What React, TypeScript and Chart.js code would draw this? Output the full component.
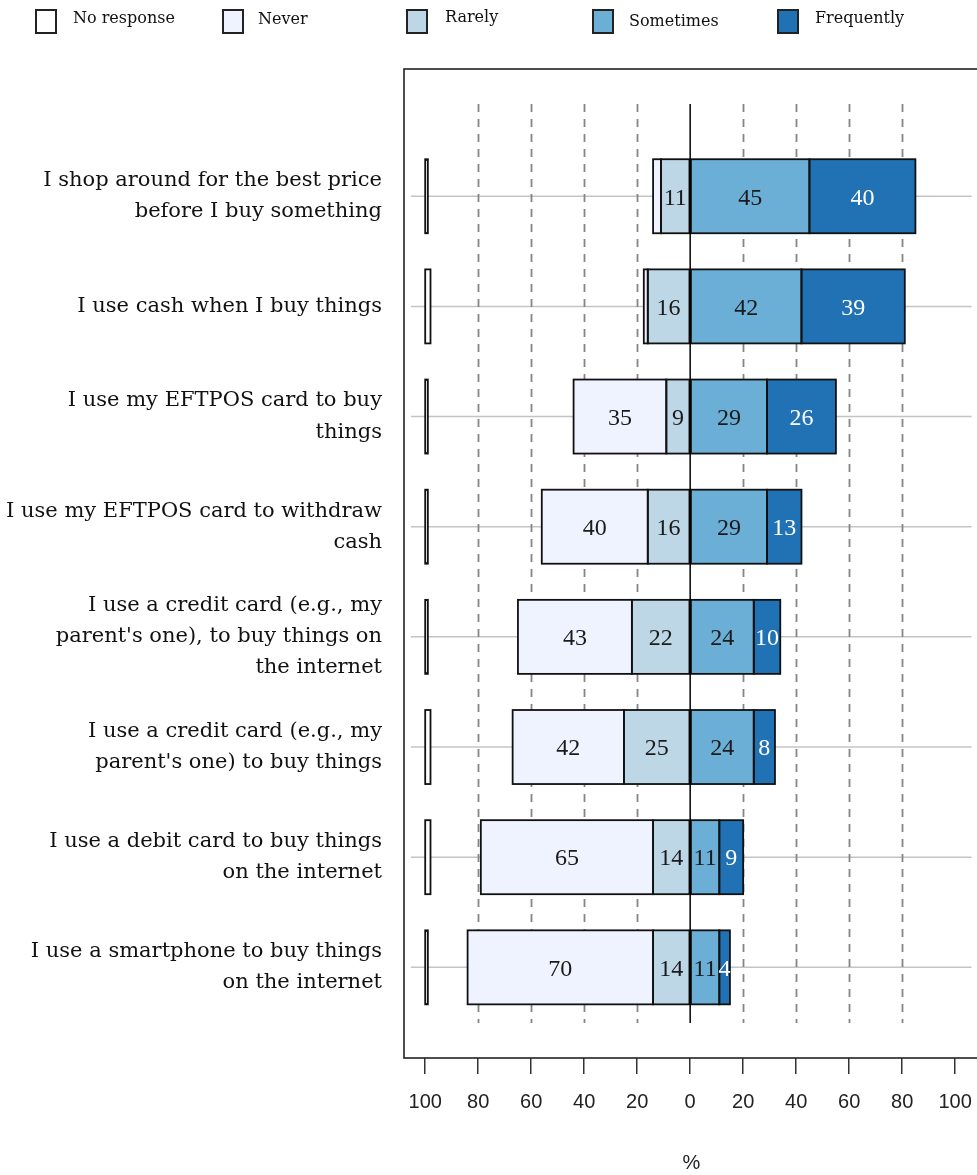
import React, { useEffect, useRef } from "react";
import { Chart, registerables } from "chart.js";

Chart.register(...registerables);

// ---- data ----
const itemLabels: string[][] = [
  ["I shop around for the best price", "before I buy something"],
  ["I use cash when I buy things"],
  ["I use my EFTPOS card to buy", "things"],
  ["I use my EFTPOS card to withdraw", "cash"],
  ["I use a credit card (e.g., my", "parent's one), to buy things on", "the internet"],
  ["I use a credit card (e.g., my", "parent's one) to buy things"],
  ["I use a debit card to buy things", "on the internet"],
  ["I use a smartphone to buy things", "on the internet"],
];
const noResponse = [1, 2, 1, 1, 1, 2, 2, 1];
const never = [3, 1.5, 35, 40, 43, 42, 65, 70];
const rarely = [11, 16, 9, 16, 22, 25, 14, 14];
const sometimes = [45, 42, 29, 29, 24, 24, 11, 11];
const frequently = [40, 39, 26, 13, 10, 8, 9, 4];

const legendLabels = ["No response", "Never", "Rarely", "Sometimes", "Frequently"];
const seriesColors = ["#FFFFFF", "#EFF3FF", "#BDD7E7", "#6BAED6", "#2171B5"];
const xTickValues = [-100, -80, -60, -40, -20, 0, 20, 40, 60, 80, 100];
const dashedValues = [-80, -60, -40, -20, 20, 40, 60, 80];

// ---- layout constants (styles, not data) ----
const W = 980;
const H = 1175;
const legendX = [36, 223, 407, 593, 778];
const legendTextX = [73, 258, 445, 629, 815];
const legendBase = [23, 24, 22, 26, 23];

export default function App() {
  const ref = useRef<HTMLCanvasElement | null>(null);

  useEffect(() => {
    const canvas = ref.current;
    if (!canvas) return;
    const rows = itemLabels.map((_, i) => i);

    const mk = (label: string, color: string, f: (i: number) => [number, number]) => ({
      label,
      backgroundColor: color,
      borderWidth: 0,
      grouped: false,
      categoryPercentage: 0.672,
      barPercentage: 1,
      data: rows.map((i) => ({ y: i, x: f(i) })),
    });

    const datasets = [
      mk(legendLabels[0], seriesColors[0], (i) => [-100, -100 + noResponse[i]]),
      mk(legendLabels[1], seriesColors[1], (i) => [-(never[i] + rarely[i]), -rarely[i]]),
      mk(legendLabels[2], seriesColors[2], (i) => [-rarely[i], 0]),
      mk(legendLabels[3], seriesColors[3], (i) => [0, sometimes[i]]),
      mk(legendLabels[4], seriesColors[4], (i) => [sometimes[i], sometimes[i] + frequently[i]]),
    ];
    const labelValues = [null, never, rarely, sometimes, frequently];

    const decor = {
      id: "decor",
      beforeDatasetsDraw(chart: any) {
        const { ctx, scales } = chart;
        const xs = scales.x;
        const ys = scales.y;
        ctx.save();
        // horizontal gray reference lines
        ctx.strokeStyle = "#C4C4C4";
        ctx.lineWidth = 1.5;
        rows.forEach((i) => {
          const y = ys.getPixelForValue(i);
          ctx.beginPath();
          ctx.moveTo(xs.getPixelForValue(-105.4), y);
          ctx.lineTo(xs.getPixelForValue(106.2), y);
          ctx.stroke();
        });
        // dashed verticals
        ctx.strokeStyle = "#858585";
        ctx.lineWidth = 1.8;
        ctx.setLineDash([8, 7]);
        const yTop = ys.getPixelForValue(-0.837);
        const yBot = ys.getPixelForValue(7.505);
        dashedValues.forEach((v) => {
          const x = Math.round(xs.getPixelForValue(v)) + 0.5;
          ctx.beginPath();
          ctx.moveTo(x, yTop);
          ctx.lineTo(x, yBot);
          ctx.stroke();
        });
        ctx.restore();
      },
      afterDatasetsDraw(chart: any) {
        const { ctx, chartArea, scales } = chart;
        const xs = scales.x;
        const ys = scales.y;
        ctx.save();
        // bar outlines
        ctx.strokeStyle = "#111";
        ctx.lineWidth = 1.8;
        chart.data.datasets.forEach((_: any, di: number) => {
          const meta = chart.getDatasetMeta(di);
          meta.data.forEach((el: any) => {
            const p = el.getProps(["x", "y", "base", "height"], true);
            const l = Math.min(p.x, p.base);
            const r = Math.max(p.x, p.base);
            ctx.strokeRect(l, p.y - p.height / 2, r - l, p.height);
          });
        });
        // zero line
        const x0 = xs.getPixelForValue(0);
        ctx.lineWidth = 1.5;
        ctx.strokeStyle = "#000";
        ctx.beginPath();
        ctx.moveTo(x0, ys.getPixelForValue(-0.837));
        ctx.lineTo(x0, ys.getPixelForValue(7.505));
        ctx.stroke();
        // value labels
        ctx.font = '24px "Liberation Serif"';
        ctx.textAlign = "center";
        ctx.textBaseline = "middle";
        labelValues.forEach((vals, di) => {
          if (!vals) return;
          const meta = chart.getDatasetMeta(di);
          meta.data.forEach((el: any, i: number) => {
            const v = vals[i];
            if (v < 4) return;
            const p = el.getProps(["x", "y", "base"], true);
            ctx.fillStyle = di === 4 ? "#FFFFFF" : "#1A1A1A";
            ctx.fillText(String(Math.round(v)), (p.x + p.base) / 2, p.y + 2);
          });
        });
        // frame
        ctx.strokeStyle = "#222";
        ctx.lineWidth = 1.6;
        ctx.strokeRect(chartArea.left, chartArea.top, chartArea.right - chartArea.left, chartArea.bottom - chartArea.top);
        ctx.restore();
      },
      afterDraw(chart: any) {
        const { ctx } = chart;
        ctx.save();
        legendLabels.forEach((lab, i) => {
          ctx.fillStyle = seriesColors[i];
          ctx.fillRect(legendX[i], 10, 20, 23);
          ctx.strokeStyle = "#222";
          ctx.lineWidth = 2;
          ctx.strokeRect(legendX[i], 10, 20, 23);
          ctx.fillStyle = "#111";
          ctx.font = '16px "DejaVu Serif"';
          ctx.textAlign = "left";
          ctx.textBaseline = "alphabetic";
          ctx.fillText(lab, legendTextX[i], legendBase[i]);
        });
        ctx.restore();
      },
    };

    const chart = new Chart(canvas, {
      type: "bar",
      data: { datasets: datasets as any },
      options: {
        indexAxis: "y",
        animation: false,
        responsive: false,
        devicePixelRatio: 1,
        layout: { padding: { top: 69, left: 0, right: 1, bottom: 0 } },
        plugins: { legend: { display: false }, tooltip: { enabled: false } },
        scales: {
          x: {
            type: "linear",
            min: -108,
            max: 109,
            afterBuildTicks: (s: any) => {
              s.ticks = xTickValues.map((v) => ({ value: v }));
            },
            afterFit: (s: any) => {
              s.height = H - 1058;
              s.paddingLeft = 0;
              s.paddingRight = 0;
            },
            border: { display: false },
            grid: {
              drawOnChartArea: false,
              drawTicks: true,
              tickLength: 16,
              color: "#333",
              lineWidth: 1.5,
            },
            ticks: {
              autoSkip: false,
              maxRotation: 0,
              padding: 16,
              color: "#222",
              font: { family: '"Liberation Sans", Arial, sans-serif', size: 20 },
              callback: (v: any) => String(Math.abs(Number(v))),
            },
            title: {
              display: true,
              text: "%",
              color: "#222",
              font: { family: '"Liberation Sans", Arial, sans-serif', size: 20 },
              padding: { top: 0, bottom: 0 },
            },
          },
          y: {
            type: "linear",
            reverse: true,
            offset: false,
            min: -1.155,
            max: 7.823,
            afterBuildTicks: (s: any) => {
              s.ticks = rows.map((v) => ({ value: v }));
            },
            afterFit: (s: any) => {
              s.width = 404;
              s.paddingTop = 0;
              s.paddingBottom = 0;
            },
            border: { display: false },
            grid: { display: false, drawTicks: false, offset: false },
            ticks: {
              autoSkip: false,
              padding: 22,
              color: "#111",
              font: { family: '"DejaVu Serif", serif', size: 21, lineHeight: 1.48 },
              callback: (v: any) => itemLabels[Math.round(Number(v))] as any,
            },
          },
        },
      },
      plugins: [decor],
    } as any);

    return () => chart.destroy();
  }, []);

  return (
    <div style={{ position: "absolute", left: 0, top: 0, width: 977, height: H, overflow: "hidden", background: "#fff" }}>
      <canvas ref={ref} width={W} height={H} style={{ display: "block", width: W, height: H }} />
    </div>
  );
}
